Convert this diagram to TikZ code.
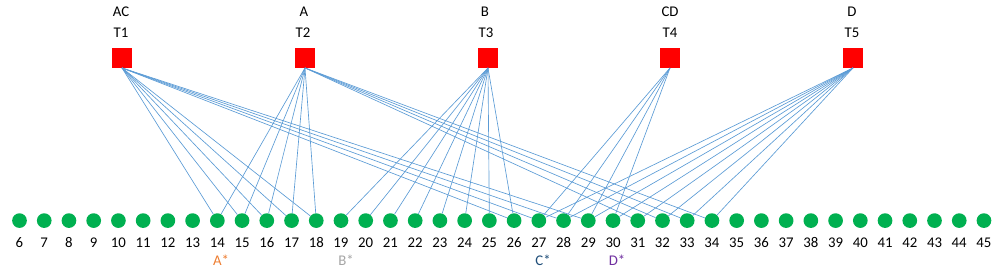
\documentclass[tikz,border=0pt]{standalone}
\usepackage{fontspec}
\setmainfont{Carlito}
\definecolor{tred}{HTML}{FF0000}
\definecolor{dgreen}{HTML}{00B050}
\definecolor{lblue}{HTML}{5B9BD5}
\definecolor{aorange}{HTML}{ED7D31}
\definecolor{bgray}{HTML}{A5A5A5}
\definecolor{cnavy}{HTML}{1F4E79}
\definecolor{dpurple}{HTML}{7030A0}
\begin{document}
\begin{tikzpicture}[x=1pt,y=-1pt,
  tbox/.style={fill=tred, minimum width=20pt, minimum height=19.5pt, inner sep=0pt},
  dot/.style={circle, fill=dgreen, minimum size=14.7pt, inner sep=0pt},
  link/.style={draw=lblue, line width=0.65pt},
  lbl/.style={inner sep=0pt, font=\fontsize{14.8}{17}\selectfont}]
\useasboundingbox (0,0) rectangle (1005,270);
% top squares and labels
\node[tbox] (T1) at (122,58) {};
\node[tbox] (T2) at (305,58) {};
\node[tbox] (T3) at (488,58) {};
\node[tbox] (T4) at (670,58) {};
\node[tbox] (T5) at (853,58) {};
\node[lbl] (t1) at (121,33) {T1};
\node[lbl] (t2) at (303,33) {T2};
\node[lbl] (t3) at (486,33) {T3};
\node[lbl] (t4) at (670,33) {T4};
\node[lbl] (t5) at (852,33) {T5};
\node[lbl] (g1) at (121,12) {AC};
\node[lbl] (g2) at (304,12) {A};
\node[lbl] (g3) at (485,12) {B};
\node[lbl] (g4) at (670,12) {CD};
\node[lbl] (g5) at (852,12) {D};
% bottom circles and numbers
\foreach \n in {6,...,45} {
  \node[dot] (n\n) at ({19.5+(\n-6)*24.73},220.6) {};
  \node[lbl] (l\n) at ({19.5+(\n-6)*24.73},242.5) {\n};
}
% star labels
\node[lbl, text=aorange] (as) at (221,260) {A*};
\node[lbl, text=bgray] (bs) at (346,260) {B*};
\node[lbl, text=cnavy] (cs) at (543,260) {C*};
\node[lbl, text=dpurple] (ds) at (617,260) {D*};
% connectors
\foreach \n in {14,...,18} \draw[link] (T1.south) -- (n\n);
\foreach \n in {26,...,29} \draw[link] (T1.south) -- (n\n);
\foreach \n in {14,...,18} \draw[link] (T2.south) -- (n\n);
\foreach \n in {31,...,34} \draw[link] (T2.south) -- (n\n);
\foreach \n in {19,...,26} \draw[link] (T3.south) -- (n\n);
\foreach \n in {27,...,30} \draw[link] (T4.south) -- (n\n);
\foreach \n in {27,...,34} \draw[link] (T5.south) -- (n\n);
\end{tikzpicture}
\end{document}
